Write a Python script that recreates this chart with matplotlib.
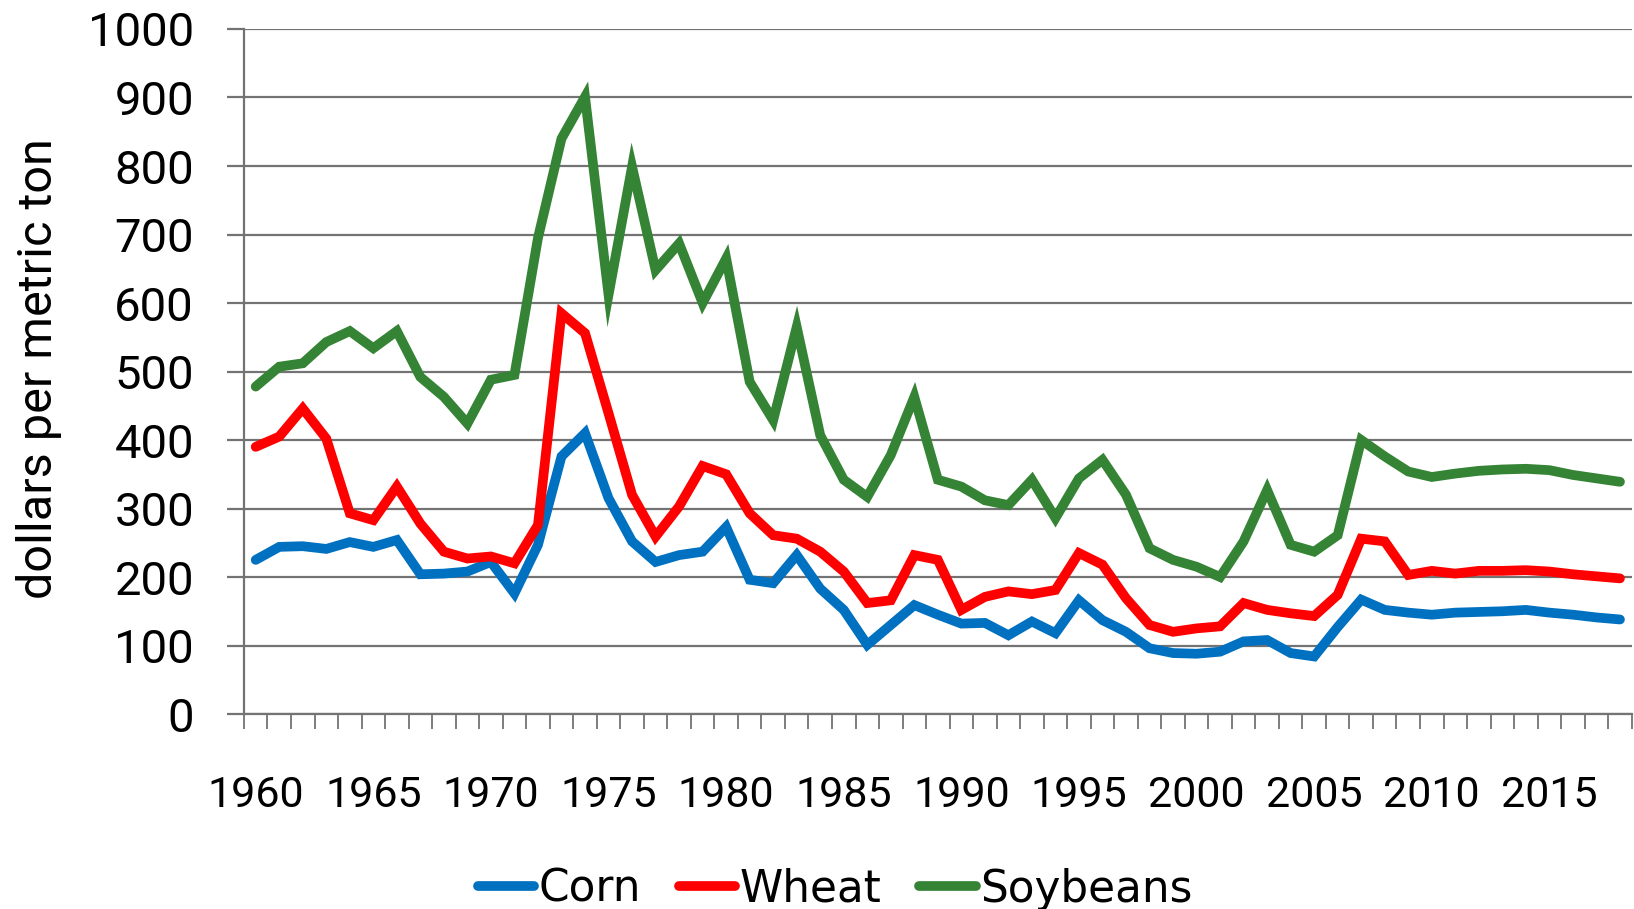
import matplotlib
matplotlib.use("Agg")
import matplotlib.pyplot as plt
from matplotlib.ticker import MultipleLocator, FixedLocator

# Prices, dollars per metric ton
years = list(range(1960, 2019))

corn = [225, 244, 245, 241, 251, 244, 254, 204, 205, 208,
        222, 176, 247, 376, 410, 315, 252, 222, 232, 237,
        273, 196, 191, 232, 183, 152, 101, 130, 159, 145,
        132, 133, 115, 135, 118, 166, 137, 120, 96, 89,
        88, 91, 106, 108, 89, 84, 127, 167, 152, 148,
        145, 148, 149, 150, 152, 148, 145, 141, 138]

wheat = [390, 405, 446, 402, 293, 283, 332, 278, 237, 227,
         230, 220, 276, 585, 556, 439, 320, 259, 303, 362,
         350, 293, 261, 256, 237, 208, 162, 166, 232, 225,
         152, 171, 179, 175, 181, 235, 218, 169, 130, 120,
         125, 128, 162, 152, 147, 143, 174, 256, 252, 203,
         209, 205, 209, 209, 210, 208, 204, 201, 198]

soybeans = [478, 507, 512, 543, 559, 534, 559, 492, 463, 424,
            488, 495, 695, 840, 901, 612, 799, 648, 687, 600,
            665, 485, 429, 565, 407, 342, 317, 378, 463, 342,
            332, 312, 305, 342, 286, 344, 371, 320, 242, 225,
            215, 200, 252, 327, 247, 237, 261, 400, 376, 354,
            346, 351, 355, 357, 358, 356, 349, 344, 339]

series_names = ["Corn", "Wheat", "Soybeans"]
series_colors = ["#0070C0", "#FF0000", "#358334"]

fig = plt.figure(figsize=(16.34, 9.09), dpi=100)
ax = fig.add_axes([0.1493, 0.2145, 0.8493, 0.7536])

for vals, name, col in zip([corn, wheat, soybeans], series_names, series_colors):
    ax.plot(years, vals, color=col, lw=7, label=name,
            solid_joinstyle="miter", solid_capstyle="round", zorder=3)

ax.set_xlim(1959.5, 2018.5)
ax.set_ylim(0, 1000)

# y axis
ax.yaxis.set_major_locator(MultipleLocator(100))
ax.grid(axis="y", color="#737373", lw=1.6, zorder=0)
ax.tick_params(axis="y", length=12, width=1.6, color="#737373", pad=24,
               labelsize=34, labelfontfamily="Roboto")

# x axis: category style ticks between years, labels every 5 years
ax.xaxis.set_major_locator(FixedLocator(years[::5]))
ax.xaxis.set_minor_locator(FixedLocator([y - 0.5 for y in years] + [2018.5]))
ax.tick_params(axis="x", which="major", length=0, pad=44,
               labelsize=31, labelfontfamily="Roboto")
ax.tick_params(axis="x", which="minor", length=11, width=1.3, color="#737373")

for s in ["top", "right"]:
    ax.spines[s].set_visible(False)
for s in ["left", "bottom"]:
    ax.spines[s].set_color("#737373")
    ax.spines[s].set_linewidth(1.6)

fig.text(0.024, 0.595, "dollars per metric ton", rotation=90,
         ha="center", va="center", fontsize=35, family="Roboto")

leg = fig.legend(loc="center", bbox_to_anchor=(0.511, 0.022), ncol=3,
                 frameon=False, handlelength=1.3, handletextpad=0.1,
                 columnspacing=0.85, prop={"family": "DejaVu Sans", "size": 31.5})
for h in leg.get_lines():
    h.set_linewidth(7)

fig.savefig("out.png", dpi=100, facecolor="white")
